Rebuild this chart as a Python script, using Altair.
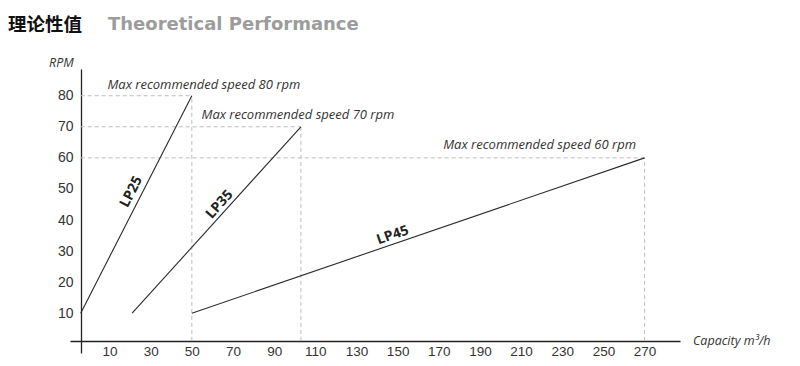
import altair as alt
import pandas as pd

# ---- data ----
series = ["LP25", "LP35", "LP45"]
cap_start = [-4, 21, 50]        # m3/h
cap_end = [50, 103, 270]        # m3/h
rpm_start = [10, 10, 10]
rpm_end = [80, 70, 60]
notes = ["Max recommended speed 80 rpm",
         "Max recommended speed 70 rpm",
         "Max recommended speed 60 rpm"]
x_ticks = [10, 30, 50, 70, 90, 110, 130, 150, 170, 190, 210, 230, 250, 270]
y_ticks = [10, 20, 30, 40, 50, 60, 70, 80]
axis_cap = -4     # where the RPM axis stands
axis_rpm = 1.1    # where the capacity axis stands

df = pd.DataFrame({
    "series": series, "cs": cap_start, "ce": cap_end,
    "rs": rpm_start, "re": rpm_end, "note": notes,
})
df["axc"] = axis_cap
df["axr"] = axis_rpm

W, H = 610, 284
xs = alt.Scale(domain=[-9.2, 287.2], nice=False, zero=False)
ys = alt.Scale(domain=[-2.8, 88.6], nice=False, zero=False)

XAX = alt.Axis(
    values=x_ticks, title=None, grid=False, ticks=False, offset=-12,
    domainColor="#222222", domainWidth=1.3, labelColor="#333333",
    labelFont="Liberation Sans", labelFontSize=13.5, labelPadding=3,
    labelFlush=False)
YAX = alt.Axis(
    values=y_ticks, title=None, grid=False, ticks=False, offset=-11,
    domainColor="#222222", domainWidth=1.3, labelColor="#333333",
    labelFont="Liberation Sans", labelFontSize=14, labelPadding=8)


def X(f):
    return alt.X(f, scale=xs, axis=XAX)


def Y(f):
    return alt.Y(f, scale=ys, axis=YAX)


base = alt.Chart(df)
LINE = "#2a2a2a"
GRID = "#bdbdbd"

hgrid = base.mark_rule(color=GRID, strokeDash=[4, 3], strokeWidth=1).encode(
    x=X("axc:Q"), x2="ce:Q", y=Y("re:Q"),
)
vgrid = base.mark_rule(color=GRID, strokeDash=[4, 3], strokeWidth=1).encode(
    x=X("ce:Q"), y=Y("axr:Q"), y2="re:Q",
)
lines = base.mark_rule(color=LINE, strokeWidth=1.1).encode(
    x=X("cs:Q"), x2="ce:Q", y=Y("rs:Q"), y2="re:Q",
)

layers = [hgrid, vgrid, lines]

# series labels along the lines (angle, dx, dy are style; offsets in text frame)
lab_style = {"LP25": (297, 9, -10), "LP35": (312, 13.5, -8),
             "LP45": (341, -24, -8.5)}
for s, (ang, dx, dy) in lab_style.items():
    layers.append(
        base.transform_filter(alt.datum.series == s)
        .transform_calculate(mx="(datum.cs + datum.ce) / 2",
                             my="(datum.rs + datum.re) / 2")
        .mark_text(angle=ang, dx=dx, dy=dy, font="Open Sans", fontSize=14,
                   fontWeight="bold", color="#222222", align="center",
                   baseline="middle")
        .encode(x=X("mx:Q"), y=Y("my:Q"), text="series:N")
    )

# max-speed notes anchored at the line ends
note_style = {"LP25": (12, -11), "LP35": (-3, -12), "LP45": (-105, -13)}
for s, (dx, dy) in note_style.items():
    layers.append(
        base.transform_filter(alt.datum.series == s)
        .mark_text(dx=dx, dy=dy, font="Open Sans", fontSize=13,
                   fontStyle="italic", color="#333333", align="center",
                   baseline="middle")
        .encode(x=X("ce:Q"), y=Y("re:Q"), text="note:N")
    )


# titles and axis names
def label(txt, x, y, **kw):
    return alt.Chart(pd.DataFrame({"t": [txt]})).mark_text(
        align="left", baseline="middle", **kw
    ).encode(x=alt.value(x), y=alt.value(y), text="t:N")


layers += [
    label("理论性值", -62, -44, font="Noto Sans CJK SC", fontSize=18.5,
          fontWeight="bold", color="#111111"),
    label("Theoretical Performance", 38, -44, font="DejaVu Sans", fontSize=18,
          fontWeight="bold", color="#9c9c9c"),
    label("RPM", -21, -6, font="Open Sans", fontSize=12.5, fontStyle="italic",
          color="#333333"),
    label("Capacity m³/h", 623, 272, font="Open Sans", fontSize=12.5,
          fontStyle="italic", color="#333333"),
]

chart = alt.layer(*layers).properties(
    width=W, height=H,
    autosize=alt.AutoSizeParams(type="none"),
    padding={"left": 62, "top": 61, "right": 112, "bottom": 5},
    background="white",
).configure_view(stroke=None)

chart.save("out.html", embed_options={"renderer": "svg", "actions": False})
